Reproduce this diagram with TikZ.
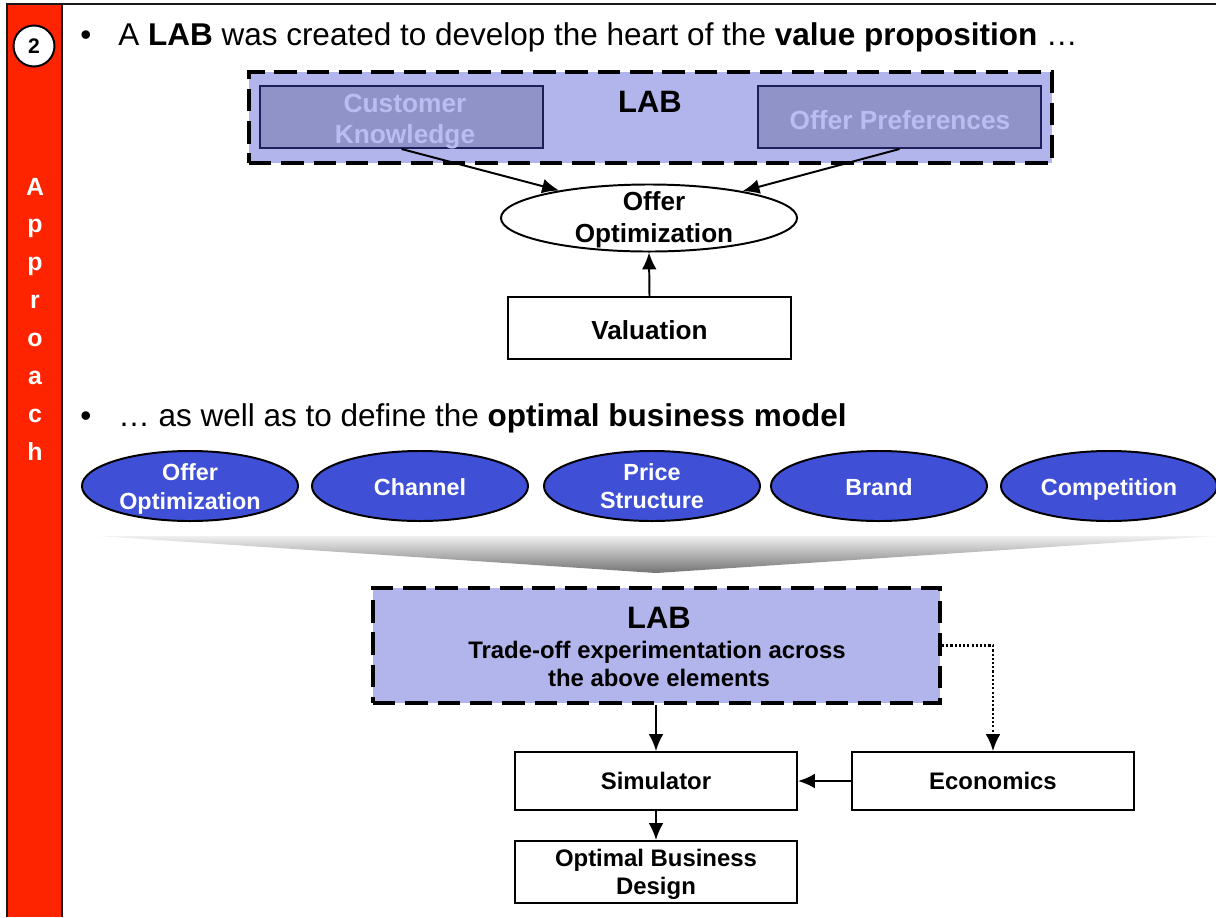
\documentclass[tikz,border=0pt]{standalone}
\usepackage{fontspec}
\setmainfont{Liberation Sans}
\usetikzlibrary{shapes.geometric,arrows.meta}

\definecolor{barred}{RGB}{255,36,0}
\definecolor{lablav}{RGB}{178,181,236}
\definecolor{innerlav}{RGB}{143,147,200}
\definecolor{innernavy}{RGB}{30,30,90}
\definecolor{innertext}{RGB}{186,189,240}
\definecolor{factorblue}{RGB}{64,80,214}

\tikzset{
  labbox/.style={draw, fill=lablav, line width=2.8pt, dash pattern=on 16pt off 7pt},
  innerbox/.style={draw=innernavy, fill=innerlav, line width=1.4pt,
    minimum width=7.075cm, minimum height=1.55cm},
  innertxt/.style={text=innertext, font=\bfseries\fontsize{18.7}{22}\selectfont, align=center},
  plainbox/.style={draw, fill=white, line width=1.4pt, minimum width=7.05cm},
  boxtxt/.style={font=\bfseries\fontsize{17}{20}\selectfont, align=center},
  bigtxt/.style={font=\bfseries\fontsize{18.6}{22.7}\selectfont, align=center},
  factor/.style={ellipse, draw, fill=factorblue, line width=1.4pt,
    minimum width=5.4cm, minimum height=1.75cm},
  factortxt/.style={text=white, font=\bfseries\fontsize{16.6}{20}\selectfont, align=center},
  arr/.style={-{Latex[length=12pt, width=10.5pt]}, line width=1.4pt},
  bullettxt/.style={anchor=base west, font=\fontsize{22.4}{26}\selectfont, inner sep=0pt},
}

\begin{document}
\begin{tikzpicture}[x=0.025cm, y=-0.025cm]
    \useasboundingbox (0,0) rectangle (1216,917);

    % side bar and frame
    \fill[barred] (7,4) rectangle (62,917);
    \draw[line width=1.6pt, black!90] (7,917) -- (7,4) -- (1216,4);
    \draw[line width=1.6pt, black!90] (62,4) -- (62,917);
    \node[circle, draw, fill=white, line width=1.4pt, minimum size=1.025cm, inner sep=0pt,
          font=\bfseries\fontsize{15}{15}\selectfont] (step2) at (34,46) {2};
    \foreach \c [count=\i] in {A,p,p,r,o,a,c,h}
        \node[anchor=base, text=white, font=\bfseries\fontsize{17.7}{18}\selectfont, inner sep=0pt]
            (side\i) at (35,{195+37.9*(\i-1)}) {\c};

    % first bullet
    \node[bullettxt] (dot1) at (80,45) {•};
    \node[bullettxt] (line1) at (118,45)
        {A \textbf{LAB} was created to develop the heart of the \textbf{value proposition} …};

    \node[labbox, minimum width=20.075cm, minimum height=2.275cm] (lab) at (650.5,117.5) {};
    \node[innerbox] (custknow) at (401.5,117) {};
    \node[innertxt] (custknowtxt) at (405,122) {Customer\\Knowledge};
    \node[innerbox] (offerpref) at (899.5,117) {};
    \node[innertxt] (offerpreftxt) at (900,120) {Offer Preferences};
    \node[font=\bfseries\fontsize{22}{22}\selectfont] (labtxt) at (650,102) {LAB};

    \node[ellipse, draw, fill=white, line width=1.4pt, minimum width=7.4cm,
          minimum height=1.675cm] (offeropt) at (649,218) {};
    \node[bigtxt] (offeropttxt) at (654,220) {Offer\\Optimization};
    \node[plainbox, minimum height=1.55cm] (valuation) at (649.5,328) {};
    \node[bigtxt] (valuationtxt) at (649.5,330) {Valuation};

    \draw[arr] (custknow.south) -- (offeropt.163);
    \draw[arr] (offerpref.south) -- (offeropt.16);
    \draw[arr] (valuation.north) -- (offeropt.south);

    % second bullet
    \node[bullettxt] (dot2) at (80,426) {•};
    \node[bullettxt] (line2) at (118,426)
        {… as well as to define the \textbf{optimal business model}};

    \foreach \x/\ty/\txt [count=\i] in {190/489/{Offer\\Optimization}, 420/487/Channel,
                                        652/486/{Price\\Structure}, 879/487/Brand, 1109/489/Competition} {
        \node[factor] (f\i) at (\x,486) {};
        \node[factortxt] (ft\i) at (\x,\ty) {\txt};
    }

    % funnel
    \shade[top color=black!6, bottom color=black!55] (98,536) -- (1216,536) -- (656,573) -- cycle;

    \node[labbox, minimum width=14.175cm, minimum height=2.875cm] (lab2) at (656.5,645.5) {};
    \node[anchor=base, font=\bfseries\fontsize{22}{22}\selectfont] (lab2a) at (659,628) {LAB};
    \node[anchor=base, boxtxt] (lab2b) at (657,658) {Trade-off experimentation across};
    \node[anchor=base, boxtxt] (lab2c) at (659,686) {the above elements};

    \node[plainbox, minimum height=1.45cm] (sim) at (656,781) {};
    \node[boxtxt] (simtxt) at (sim) {Simulator};
    \node[plainbox, minimum height=1.45cm] (econ) at (993,781) {};
    \node[boxtxt] (econtxt) at (econ) {Economics};
    \node[plainbox, minimum height=1.55cm] (obd) at (656,872) {};
    \node[boxtxt] (obdtxt) at (656,874) {Optimal Business\\Design};

    \draw[arr] (sim.north |- lab2.south) -- (sim.north);
    \draw[arr, line width=1.5pt, dash pattern=on 1.5pt off 1.5pt] (lab2.east) -| (econ.north);
    \draw[arr] (econ.west) -- (sim.east);
    \draw[arr] (sim.south) -- (obd.north);
\end{tikzpicture}
\end{document}
